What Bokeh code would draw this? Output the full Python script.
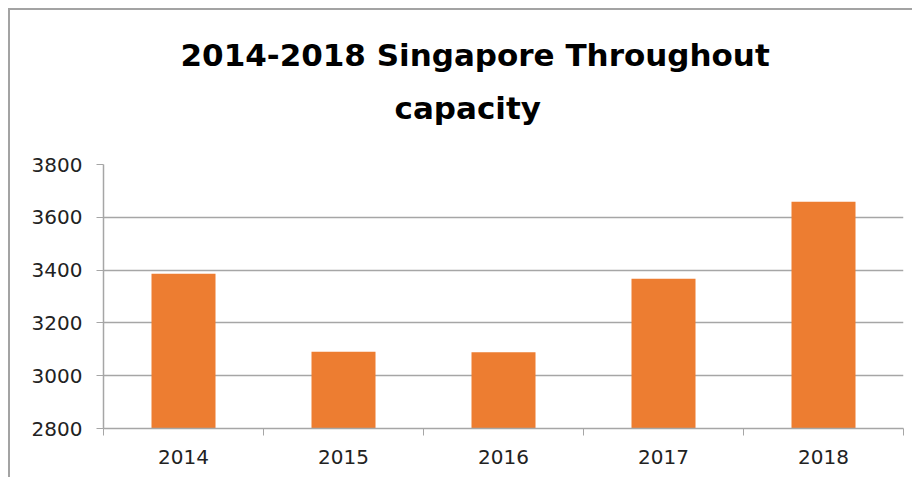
from bokeh.plotting import figure
from bokeh.models import FixedTicker, Range1d, ColumnDataSource, Title
from bokeh.embed import file_html
from bokeh.resources import INLINE

# ---- data ----
years = ["2014", "2015", "2016", "2017", "2018"]
capacity = [3386, 3091, 3089, 3367, 3659]
y_ticks = [2800, 3000, 3200, 3400, 3600, 3800]
title_line1 = "2014-2018 Singapore Throughout"
title_line2 = "capacity"

n = len(years)
centers = [i + 0.5 for i in range(n)]
src = ColumnDataSource(dict(x=centers, top=capacity, year=years))

ymin, ymax = y_ticks[0], y_ticks[-1]
p = figure(
    width=902, height=467,
    frame_width=800, frame_height=264,
    x_range=Range1d(0, n), y_range=Range1d(ymin, ymax),
    output_backend="svg", toolbar_location=None,
    min_border_left=93, min_border_right=9, min_border_top=154, min_border_bottom=49,
)
p.styles = {"margin-left": "8px", "margin-top": "8px",
            "border-left": "2px solid #a3a3a3", "border-top": "2px solid #a3a3a3"}
p.outline_line_color = None
p.background_fill_color = "white"
p.border_fill_color = "white"

p.vbar(x="x", top="top", bottom=ymin, width=0.4, source=src,
       fill_color="#ED7D31", line_color=None)

# titles: added nearest-to-frame first
spacer = Title(text=" ", text_font_size="1px", standoff=26)
t2 = Title(text=title_line2, align="left", offset=291,
           text_font="DejaVu Sans", text_font_size="31px", text_font_style="bold",
           text_color="#000000", standoff=20)
t1 = Title(text=title_line1, align="left", offset=77,
           text_font="DejaVu Sans", text_font_size="31px", text_font_style="bold",
           text_color="#000000", standoff=10)
p.add_layout(spacer, "above")
p.add_layout(t2, "above")
p.add_layout(t1, "above")

# x axis
xa = p.xaxis[0]
xa.ticker = FixedTicker(ticks=centers, minor_ticks=list(range(n + 1)))
xa.major_label_overrides = {c: y for c, y in zip(centers, years)}
xa.major_tick_out = 0
xa.major_tick_in = 0
xa.minor_tick_out = 7
xa.minor_tick_in = 0
xa.minor_tick_line_color = "#a6a6a6"
xa.axis_line_color = "#a6a6a6"
xa.axis_line_width = 1.5
xa.major_label_text_font = "DejaVu Sans"
xa.major_label_text_font_size = "20px"
xa.major_label_text_color = "#222222"
xa.major_label_standoff = 14

# y axis
ya = p.yaxis[0]
ya.ticker = FixedTicker(ticks=y_ticks, minor_ticks=[])
ya.major_tick_out = 7
ya.major_tick_in = 0
ya.major_tick_line_color = "#a6a6a6"
ya.axis_line_color = "#a6a6a6"
ya.axis_line_width = 1.5
ya.major_label_text_font = "DejaVu Sans"
ya.major_label_text_font_size = "20px"
ya.major_label_text_color = "#222222"
ya.major_label_standoff = 14

p.xgrid.grid_line_color = None
p.ygrid.grid_line_color = "#a6a6a6"
p.ygrid.grid_line_width = 1.5

open("out.html", "w").write(file_html(p, INLINE))
